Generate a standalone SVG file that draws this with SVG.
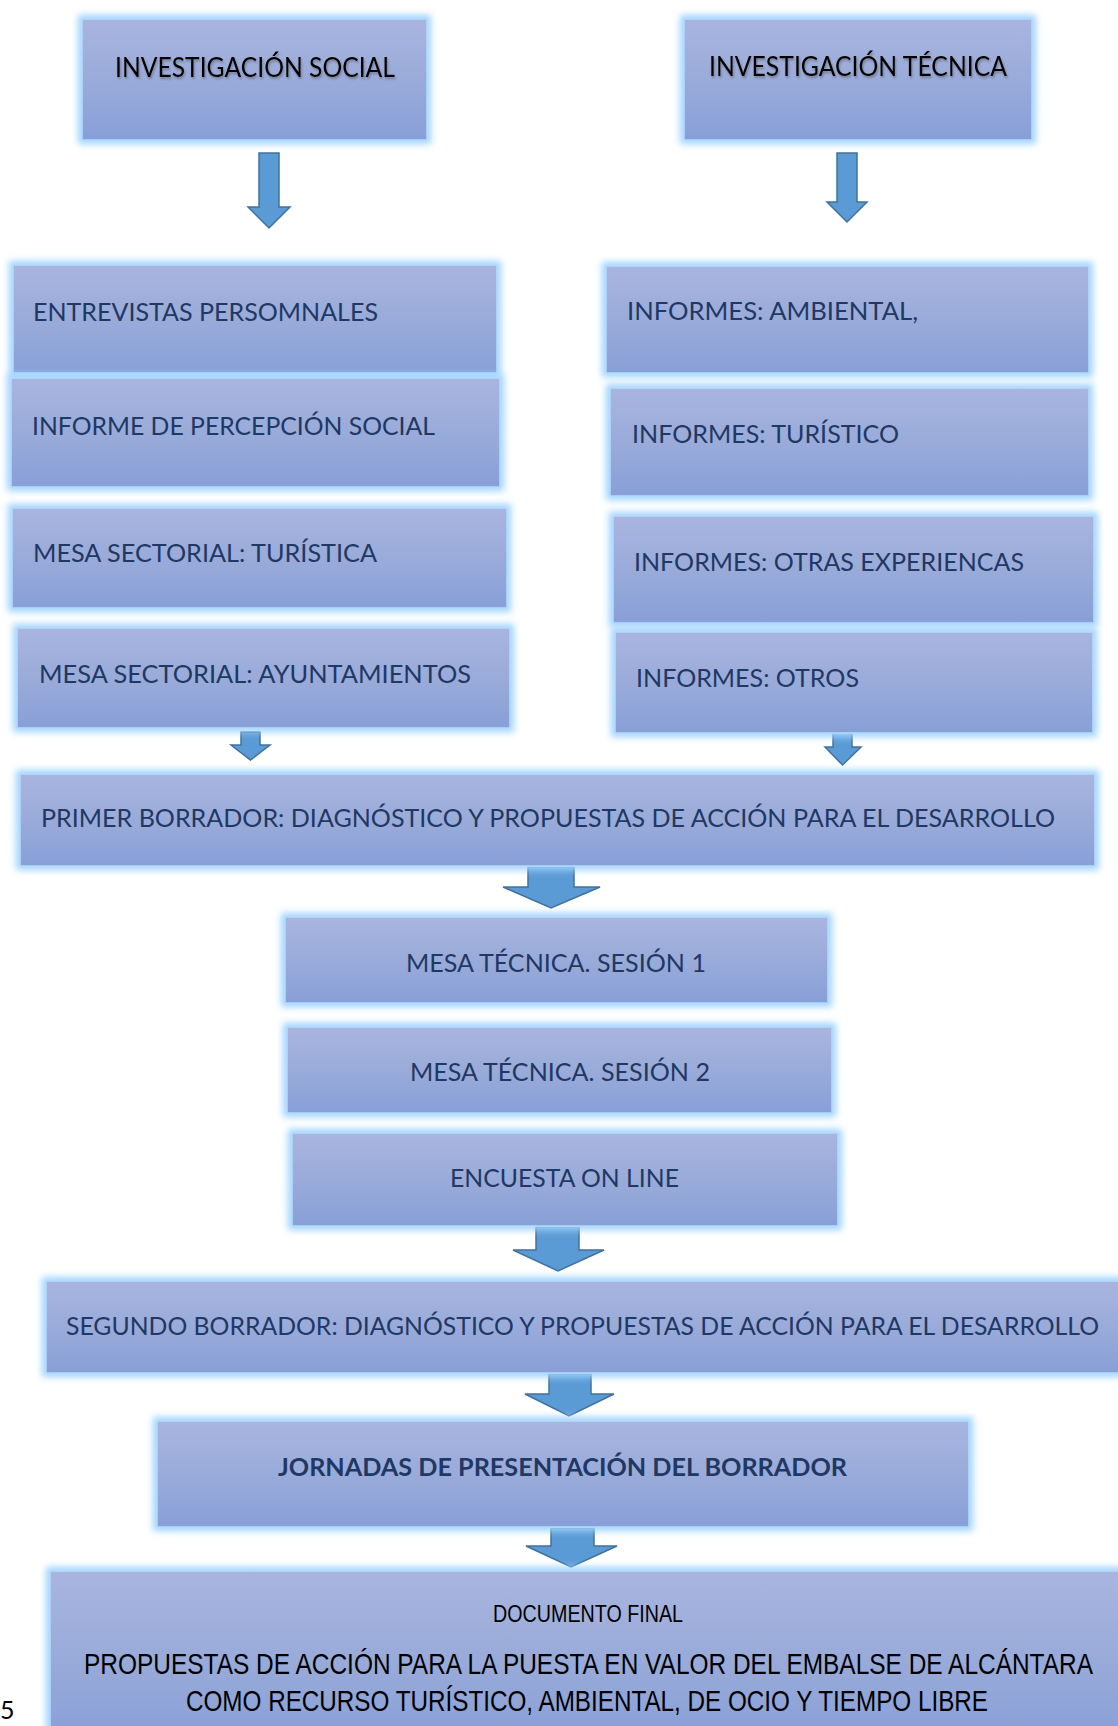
<svg xmlns="http://www.w3.org/2000/svg" width="1118" height="1726" viewBox="0 0 1118 1726">
<defs>
<linearGradient id="boxg" x1="0" y1="0" x2="0" y2="1">
<stop offset="0" stop-color="#a9b5df"/>
<stop offset="0.55" stop-color="#98aad9"/>
<stop offset="1" stop-color="#889fd7"/>
</linearGradient>
<filter id="glow" x="-10%" y="-20%" width="120%" height="140%">
<feGaussianBlur stdDeviation="3.5"/>
</filter>
<filter id="tshadow" x="-5%" y="-30%" width="110%" height="160%">
<feDropShadow dx="1" dy="2" stdDeviation="1.2" flood-color="#404040" flood-opacity="0.45"/>
</filter>
</defs>
<style>
.glow{fill:#9fd3fd;filter:url(#glow);}
.box{fill:url(#boxg);stroke:#b3dcff;stroke-width:1.5;}
.t{font-family:Lato,"Open Sans",sans-serif;font-size:25px;fill:#1f3864;}
.tb{font-family:Lato,"Open Sans",sans-serif;font-size:25px;font-weight:bold;fill:#1f3864;}
.th{font-family:Lato,"Open Sans",sans-serif;font-size:26px;fill:#000;filter:url(#tshadow);}
.tn{font-family:"Liberation Sans",Arial,sans-serif;fill:#000;}
.arr{fill:#5b9bd5;stroke:#41719c;stroke-width:1.5;stroke-linejoin:miter;}
</style>
<rect width="1118" height="1726" fill="#ffffff"/>

<g id="connectors">
<polygon class="arr" points="259,153 279,153 279,207 290,207 269,228 248,207 259,207"/>
<polygon class="arr" points="837,153 857,153 857,202 867,202 847,222 827,202 837,202"/>
<polygon class="arr" points="241,732 260,732 260,745 270,745 250.5,760 231,745 241,745"/>
<polygon class="arr" points="833,733 852,733 852,747 861,747 842.5,765 825,747 833,747"/>
<polygon class="arr" points="528,867 574,867 574,887 600,887 551,908 503,887 528,887"/>
<polygon class="arr" points="536,1227 579,1227 579,1250 604,1250 558,1271 513,1250 536,1250"/>
<polygon class="arr" points="549,1374 591,1374 591,1394 614,1394 569,1416 525,1394 549,1394"/>
<polygon class="arr" points="551,1528 594,1528 594,1546 617,1546 571,1567 526,1546 551,1546"/>
</g>

<g id="n-social">
<rect class="glow" x="78" y="15" width="353" height="129"/>
<rect class="box" x="82" y="19" width="345" height="121"/>
<text class="th" x="115" y="77" textLength="280" lengthAdjust="spacingAndGlyphs">INVESTIGACIÓN SOCIAL</text>
</g>
<g id="n-tecnica">
<rect class="glow" x="680" y="15" width="356" height="129"/>
<rect class="box" x="684" y="19" width="348" height="121"/>
<text class="th" x="709" y="76" textLength="298" lengthAdjust="spacingAndGlyphs">INVESTIGACIÓN TÉCNICA</text>
</g>

<g id="n-entrevistas">
<rect class="glow" x="9" y="261" width="492" height="116"/>
<rect class="box" x="13" y="265" width="484" height="108"/>
<text class="t" x="33" y="321" textLength="345" lengthAdjust="spacingAndGlyphs">ENTREVISTAS PERSOMNALES</text>
</g>
<g id="n-percepcion">
<rect class="glow" x="7" y="374" width="497" height="117"/>
<rect class="box" x="11" y="378" width="489" height="109"/>
<text class="t" x="32" y="435" textLength="403" lengthAdjust="spacingAndGlyphs">INFORME DE PERCEPCIÓN SOCIAL</text>
</g>
<g id="n-mesa-turistica">
<rect class="glow" x="8" y="504" width="503" height="108"/>
<rect class="box" x="12" y="508" width="495" height="100"/>
<text class="t" x="33" y="562" textLength="344" lengthAdjust="spacingAndGlyphs">MESA SECTORIAL: TURÍSTICA</text>
</g>
<g id="n-mesa-ayuntamientos">
<rect class="glow" x="13" y="624" width="501" height="108"/>
<rect class="box" x="17" y="628" width="493" height="100"/>
<text class="t" x="39" y="683" textLength="432" lengthAdjust="spacingAndGlyphs">MESA SECTORIAL: AYUNTAMIENTOS</text>
</g>

<g id="n-ambiental">
<rect class="glow" x="602" y="262" width="491" height="115"/>
<rect class="box" x="606" y="266" width="483" height="107"/>
<text class="t" x="627" y="320" textLength="291" lengthAdjust="spacingAndGlyphs">INFORMES: AMBIENTAL,</text>
</g>
<g id="n-turistico">
<rect class="glow" x="606" y="384" width="487" height="116"/>
<rect class="box" x="610" y="388" width="479" height="108"/>
<text class="t" x="632" y="443" textLength="267" lengthAdjust="spacingAndGlyphs">INFORMES: TURÍSTICO</text>
</g>
<g id="n-otras">
<rect class="glow" x="609" y="512" width="489" height="115"/>
<rect class="box" x="613" y="516" width="481" height="107"/>
<text class="t" x="634" y="571" textLength="390" lengthAdjust="spacingAndGlyphs">INFORMES: OTRAS EXPERIENCAS</text>
</g>
<g id="n-otros">
<rect class="glow" x="611" y="628" width="486" height="109"/>
<rect class="box" x="615" y="632" width="478" height="101"/>
<text class="t" x="636" y="687" textLength="223" lengthAdjust="spacingAndGlyphs">INFORMES: OTROS</text>
</g>

<g id="n-primer">
<rect class="glow" x="16" y="770" width="1083" height="100"/>
<rect class="box" x="20" y="774" width="1075" height="92"/>
<text class="t" x="41" y="827" textLength="1014" lengthAdjust="spacingAndGlyphs">PRIMER BORRADOR: DIAGNÓSTICO Y PROPUESTAS DE ACCIÓN PARA EL DESARROLLO</text>
</g>

<g id="n-mesa1">
<rect class="glow" x="281" y="913" width="551" height="94"/>
<rect class="box" x="285" y="917" width="543" height="86"/>
<text class="t" x="406" y="972" textLength="300" lengthAdjust="spacingAndGlyphs">MESA TÉCNICA. SESIÓN 1</text>
</g>
<g id="n-mesa2">
<rect class="glow" x="283" y="1023" width="553" height="94"/>
<rect class="box" x="287" y="1027" width="545" height="86"/>
<text class="t" x="410" y="1081" textLength="300" lengthAdjust="spacingAndGlyphs">MESA TÉCNICA. SESIÓN 2</text>
</g>
<g id="n-encuesta">
<rect class="glow" x="288" y="1129" width="554" height="101"/>
<rect class="box" x="292" y="1133" width="546" height="93"/>
<text class="t" x="450" y="1187" textLength="229" lengthAdjust="spacingAndGlyphs">ENCUESTA ON LINE</text>
</g>

<g id="n-segundo">
<rect class="glow" x="42" y="1277" width="1100" height="100"/>
<rect class="box" x="46" y="1281" width="1090" height="92"/>
<text class="t" x="66" y="1335" textLength="1033" lengthAdjust="spacingAndGlyphs">SEGUNDO BORRADOR: DIAGNÓSTICO Y PROPUESTAS DE ACCIÓN PARA EL DESARROLLO</text>
</g>

<g id="n-jornadas">
<rect class="glow" x="153" y="1417" width="820" height="114"/>
<rect class="box" x="157" y="1421" width="812" height="106"/>
<text class="tb" x="278" y="1476" textLength="569" lengthAdjust="spacingAndGlyphs">JORNADAS DE PRESENTACIÓN DEL BORRADOR</text>
</g>

<g id="n-final">
<rect class="glow" x="46" y="1567" width="1100" height="180"/>
<rect class="box" x="50" y="1571" width="1090" height="170"/>
<text class="tn" x="493" y="1622" font-size="24" textLength="190" lengthAdjust="spacingAndGlyphs">DOCUMENTO FINAL</text>
<text class="tn" x="84" y="1674" font-size="30" textLength="1009" lengthAdjust="spacingAndGlyphs">PROPUESTAS DE ACCIÓN PARA LA PUESTA EN VALOR DEL EMBALSE DE ALCÁNTARA</text>
<text class="tn" x="186" y="1711" font-size="30" textLength="802" lengthAdjust="spacingAndGlyphs">COMO RECURSO TURÍSTICO, AMBIENTAL, DE OCIO Y TIEMPO LIBRE</text>
</g>

<text x="0" y="1719" font-family="Lato,'Open Sans',sans-serif" font-size="25" fill="#000">5</text>
</svg>
